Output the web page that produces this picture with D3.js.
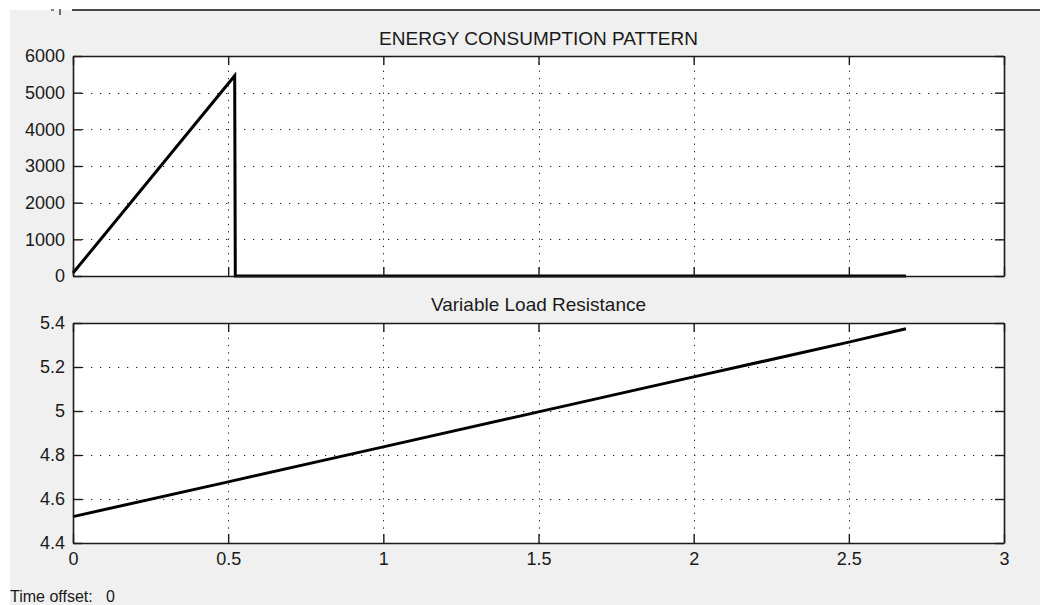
<!DOCTYPE html>
<html><head><meta charset="utf-8">
<script src="https://cdn.jsdelivr.net/npm/d3@7/dist/d3.min.js"></script>
<style>
html,body{margin:0;padding:0;background:#fff;}
svg{display:block;}
text{font-family:"Liberation Sans",Arial,sans-serif;fill:#1a1a1a;}
</style></head>
<body>
<svg id="chart" width="1040" height="605"></svg>
<script>
// ---- data ----
const xTicks = [0, 0.5, 1, 1.5, 2, 2.5, 3];
const xTickLabels = ["0", "0.5", "1", "1.5", "2", "2.5", "3"];
const energyTicks = [0, 1000, 2000, 3000, 4000, 5000, 6000];
const resistTicks = [4.4, 4.6, 4.8, 5, 5.2, 5.4];
const resistTickLabels = ["4.4", "4.6", "4.8", "5", "5.2", "5.4"];
const energyTime = [0, 0.521, 0.523, 2.684];
const energyValues = [80, 5460, 0, 0];
const resistTime = [0, 0.5, 1, 1.5, 2, 2.5, 2.684];
const resistValues = [4.52, 4.678, 4.837, 4.996, 5.155, 5.313, 5.374];
const titles = ["ENERGY CONSUMPTION PATTERN", "Variable Load Resistance"];
const footer = "Time offset:   0";

// ---- layout ----
const svg = d3.select("#chart");
const W = 1040, H = 605;
const left = 73, right = 1004;
const fontSize = 18;

svg.append("rect").attr("x", 10).attr("y", 10).attr("width", W - 10).attr("height", H - 10).attr("fill", "#f0f0f0");
// remnants of a previous axis at the very top
svg.append("line").attr("x1", 72).attr("x2", W).attr("y1", 10).attr("y2", 10).attr("stroke", "#111").attr("stroke-width", 1.5);
svg.append("line").attr("x1", 51).attr("x2", 54).attr("y1", 10).attr("y2", 10).attr("stroke", "#111").attr("stroke-width", 1);
svg.append("line").attr("x1", 60).attr("x2", 60).attr("y1", 9).attr("y2", 15).attr("stroke", "#111").attr("stroke-width", 1.2);

const x = d3.scaleLinear().domain([0, 3]).range([left, right]);

function panel(top, bottom, yDomain, yTicks, yLabels, tx, ty, title, titleY) {
  const y = d3.scaleLinear().domain(yDomain).range([bottom, top]);
  const g = svg.append("g");
  g.append("rect").attr("x", left).attr("y", top).attr("width", right - left).attr("height", bottom - top).attr("fill", "#fff");

  // grid
  const grid = g.append("g");
  grid.selectAll("line.h").data(yTicks.slice(1, -1)).join("line")
    .attr("x1", left).attr("x2", right).attr("y1", d => Math.round(y(d)) + 0.5).attr("y2", d => Math.round(y(d)) + 0.5)
    .attr("stroke", "#222").attr("stroke-width", 1).attr("stroke-dasharray", "1.3,7.7");
  grid.selectAll("line.v").data(xTicks.slice(1, -1)).join("line")
    .attr("x1", d => Math.round(x(d)) + 0.5).attr("x2", d => Math.round(x(d)) + 0.5).attr("y1", top).attr("y2", bottom)
    .attr("stroke", "#222").attr("stroke-width", 1).attr("stroke-dasharray", "1.3,6");

  // data line
  g.append("path").datum(tx.map((t, i) => [t, ty[i]]))
    .attr("fill", "none").attr("stroke", "#000").attr("stroke-width", 3).attr("stroke-linejoin", "miter")
    .attr("d", d3.line().x(d => x(d[0])).y(d => y(d[1])));

  // axes
  const tick = 9;
  const ax = g.append("g").attr("transform", `translate(0,${bottom})`)
    .call(d3.axisBottom(x).tickValues(xTicks).tickSizeInner(-tick).tickSizeOuter(0).tickPadding(9)
      .tickFormat((d, i) => bottom > 400 ? xTickLabels[i] : ""));
  const axTop = g.append("g").attr("transform", `translate(0,${top})`)
    .call(d3.axisTop(x).tickValues(xTicks).tickSizeInner(-tick).tickSizeOuter(0).tickFormat(""));
  const ay = g.append("g").attr("transform", `translate(${left},0)`)
    .call(d3.axisLeft(y).tickValues(yTicks).tickSizeInner(-tick).tickSizeOuter(0).tickPadding(8)
      .tickFormat((d, i) => yLabels[i]));
  const ayR = g.append("g").attr("transform", `translate(${right},0)`)
    .call(d3.axisRight(y).tickValues(yTicks).tickSizeInner(-tick).tickSizeOuter(0).tickFormat(""));
  [ax, axTop, ay, ayR].forEach(a => {
    a.select(".domain").attr("stroke", "#1a1a1a").attr("stroke-width", 1.6);
    a.selectAll(".tick line").attr("stroke", "#1a1a1a").attr("stroke-width", 1.4);
    a.selectAll(".tick text").attr("font-size", fontSize).attr("font-family", '"Liberation Sans",Arial,sans-serif').attr("fill", "#1a1a1a");
  });

  g.append("text").attr("x", (left + right) / 2).attr("y", titleY).attr("text-anchor", "middle")
    .attr("font-size", 19).text(title);
}

panel(56, 276, [0, 6000], energyTicks, energyTicks.map(String), energyTime, energyValues, titles[0], 45);
panel(323, 543, [4.4, 5.4], resistTicks, resistTickLabels, resistTime, resistValues, titles[1], 311);

svg.append("text").attr("x", 10).attr("y", 602).attr("font-size", 16).attr("xml:space", "preserve").style("white-space", "pre").text(footer);
</script>
</body></html>
